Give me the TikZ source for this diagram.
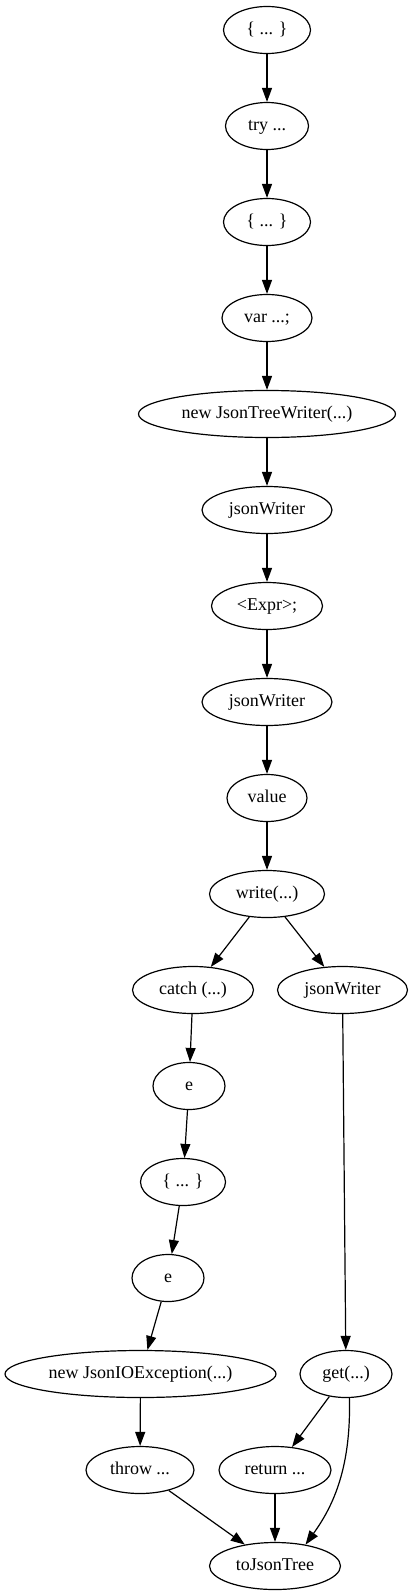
\documentclass[tikz,border=0pt]{standalone}
\usepackage{fontspec}
\setmainfont{Liberation Serif}
\usepackage{tikz}
\usetikzlibrary{arrows.meta,positioning,shapes}

\tikzset{
  st/.style={shape=ellipse,draw=black,line width=1.2pt,minimum height=47pt,inner sep=2pt,
    font=\fontsize{18pt}{21pt}\selectfont,text height=12.5pt,text depth=4pt},
  ar/.style={-{Triangle[length=14pt,width=10pt]},line width=1.2pt,black}
}

\begin{document}
\begin{tikzpicture}[node distance=47.8pt]
\useasboundingbox (0,0) rectangle (413pt,-1595pt);
\node[st,minimum width=87pt] (blk1) at (267pt,-30pt) {\{ ... \}};
\node[st,minimum width=83pt,below=of blk1] (try1) {try ...};
\node[st,minimum width=87pt,below=of try1] (blk2) {\{ ... \}};
\node[st,minimum width=90pt,below=of blk2] (var1) {var ...;};
\node[st,minimum width=257pt,below=of var1] (newtw) {new JsonTreeWriter(...)};
\node[st,minimum width=130pt,below=of newtw] (jw1) {jsonWriter};
\node[st,minimum width=111pt,below=of jw1] (expr) {<Expr>;};
\node[st,minimum width=130pt,below=of expr] (jw2) {jsonWriter};
\node[st,minimum width=80pt,below=of jw2] (val) {value};
\node[st,minimum width=115pt,below=of val] (wrt) {write(...)};

\node[st,minimum width=121pt,below=of wrt,xshift=-74pt] (ctch) {catch (...)};
\node[st,minimum width=72pt,below=of ctch,xshift=-4pt] (e1) {e};
\node[st,minimum width=85pt,below=of e1,xshift=-6pt] (blk3) {\{ ... \}};
\node[st,minimum width=72pt,below=of blk3,xshift=-15pt] (e2) {e};
\node[st,minimum width=271pt,below=of e2,xshift=-27.5pt] (newex) {new JsonIOException(...)};
\node[st,minimum width=108pt,below=of newex,xshift=-0.5pt] (thr) {throw ...};

\node[st,minimum width=130pt,below=of wrt,xshift=75.5pt] (jw3) {jsonWriter};
\node[st,minimum width=92pt,below=335.8pt of jw3,xshift=3.5pt] (get) {get(...)};
\node[st,minimum width=112pt,below=of get,xshift=-71pt] (ret) {return ...};
\node[st,minimum width=131pt,below=of ret] (tjt) {toJsonTree};

\draw[ar] (blk1)--(try1);
\draw[ar] (try1)--(blk2);
\draw[ar] (blk2)--(var1);
\draw[ar] (var1)--(newtw);
\draw[ar] (newtw)--(jw1);
\draw[ar] (jw1)--(expr);
\draw[ar] (expr)--(jw2);
\draw[ar] (jw2)--(val);
\draw[ar] (val)--(wrt);
\draw[ar] (wrt)--(ctch);
\draw[ar] (wrt)--(jw3);
\draw[ar] (ctch)--(e1);
\draw[ar] (e1)--(blk3);
\draw[ar] (blk3)--(e2);
\draw[ar] (e2)--(newex);
\draw[ar] (newex)--(thr);
\draw[ar] (jw3)--(get);
\draw[ar] (get)--(ret);
\draw[ar] (thr)--(tjt);
\draw[ar] (ret)--(tjt);
\draw[ar] (get.-82) .. controls +(2pt,-74pt) and +(25pt,35pt) .. (tjt.35);
\end{tikzpicture}
\end{document}
